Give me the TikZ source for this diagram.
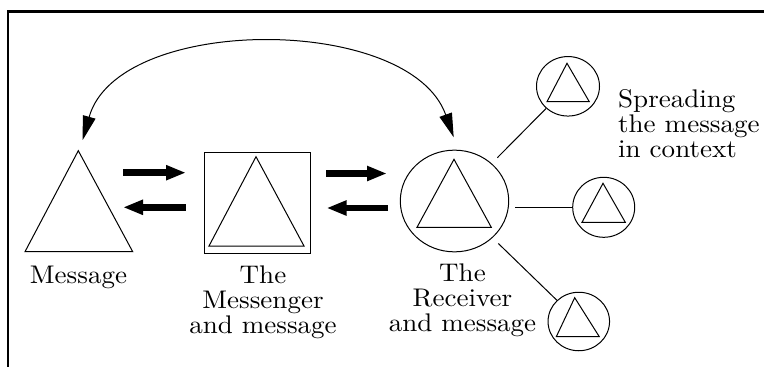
\documentclass[tikz,border=0pt]{standalone}
\usepackage{fontspec}
\newfontfamily\lmten{lmroman10-regular}[Extension=.otf,FakeStretch=1.06]
\usetikzlibrary{arrows.meta,shapes.geometric}
\begin{document}
\begin{tikzpicture}[x=1pt,y=-1pt,
  thinln/.style={line width=1pt,line join=miter},
  ring/.style={draw,ellipse,inner sep=0pt,line width=1pt},
  boxnode/.style={draw,rectangle,inner sep=0pt,line width=1pt},
  lbl/.style={inner sep=0pt,font=\lmten\fontsize{25.5}{25}\selectfont},
  fat/.style={line width=6.5pt,-{Triangle[length=20pt,width=14pt]}},
  curvearrow/.style={line width=1pt,{Triangle[length=24pt,width=13pt]}-{Triangle[length=24pt,width=13pt]}},
  spoke/.style={line width=1pt,shorten <=8pt},
]
\useasboundingbox (0,0) rectangle (764,367);
\begin{scope}
  \clip (0,0) rectangle (764,367);
  \draw[line width=2.6pt] (8,11.3) rectangle (820,420);
\end{scope}

% shapes
\node[boxnode,minimum width=106.4pt,minimum height=101pt] (box) at (257.5,202.8) {};
\node[ring,minimum width=108.4pt,minimum height=101.7pt] (recv) at (454.5,201) {};
\node[ring,minimum width=63pt,minimum height=59.5pt] (s1) at (568,86.3) {};
\node[ring,minimum width=62pt,minimum height=60pt] (s2) at (603.7,207.3) {};
\node[ring,minimum width=61.5pt,minimum height=58.5pt] (s3) at (578.8,321.5) {};

% triangles
\draw[thinln] (78.3,150.7) -- (25,251.7) -- (132.7,251.7) -- cycle;
\draw[thinln] (256,156.7) -- (209,246) -- (304,246) -- cycle;
\draw[thinln] (454,159.3) -- (417,227.3) -- (491.3,227.3) -- cycle;
\draw[thinln] (567,63.3) -- (547,101.7) -- (589.3,101.7) -- cycle;
\draw[thinln] (603,183.3) -- (582,222.3) -- (625.3,222.3) -- cycle;
\draw[thinln] (574.7,297.7) -- (556.3,336.7) -- (599.3,336.7) -- cycle;

% labels
\node[lbl,anchor=base] (lmsg) at (78.5,283) {Message};
\node[lbl,anchor=north,align=center] (lbox) at (263,265.3) {The\\Messenger\\and message};
\node[lbl,anchor=north,align=center] (lrecv) at (462.5,263.3) {The\\Receiver\\and message};
\node[lbl,anchor=north west,align=left] (lspread) at (618,89.3) {Spreading\\the message\\in context};

% thick arrows
\coordinate (a1s) at (123,172.7); \coordinate (a1e) at (186,172.7);
\coordinate (a2s) at (185.5,207.3); \coordinate (a2e) at (123,207.3);
\coordinate (a3s) at (326,173.5); \coordinate (a3e) at (387,173.5);
\coordinate (a4s) at (388,208); \coordinate (a4e) at (326.5,208);
\draw[fat] (a1s) -- (a1e);
\draw[fat] (a2s) -- (a2e);
\draw[fat] (a3s) -- (a3e);
\draw[fat] (a4s) -- (a4e);

% curved double arrow
\coordinate (msgtip) at (82.7,140);
\coordinate (recvtip) at (453.7,137.3);
\draw[curvearrow] (msgtip) .. controls (118,14) and (410,14) .. (recvtip);

% spokes
\draw[spoke] (recv) -- (s1);
\draw[spoke,shorten <=6pt] (recv.east |- s2.west) -- (s2.west);
\draw[spoke] (recv) -- (s3);
\end{tikzpicture}
\end{document}
